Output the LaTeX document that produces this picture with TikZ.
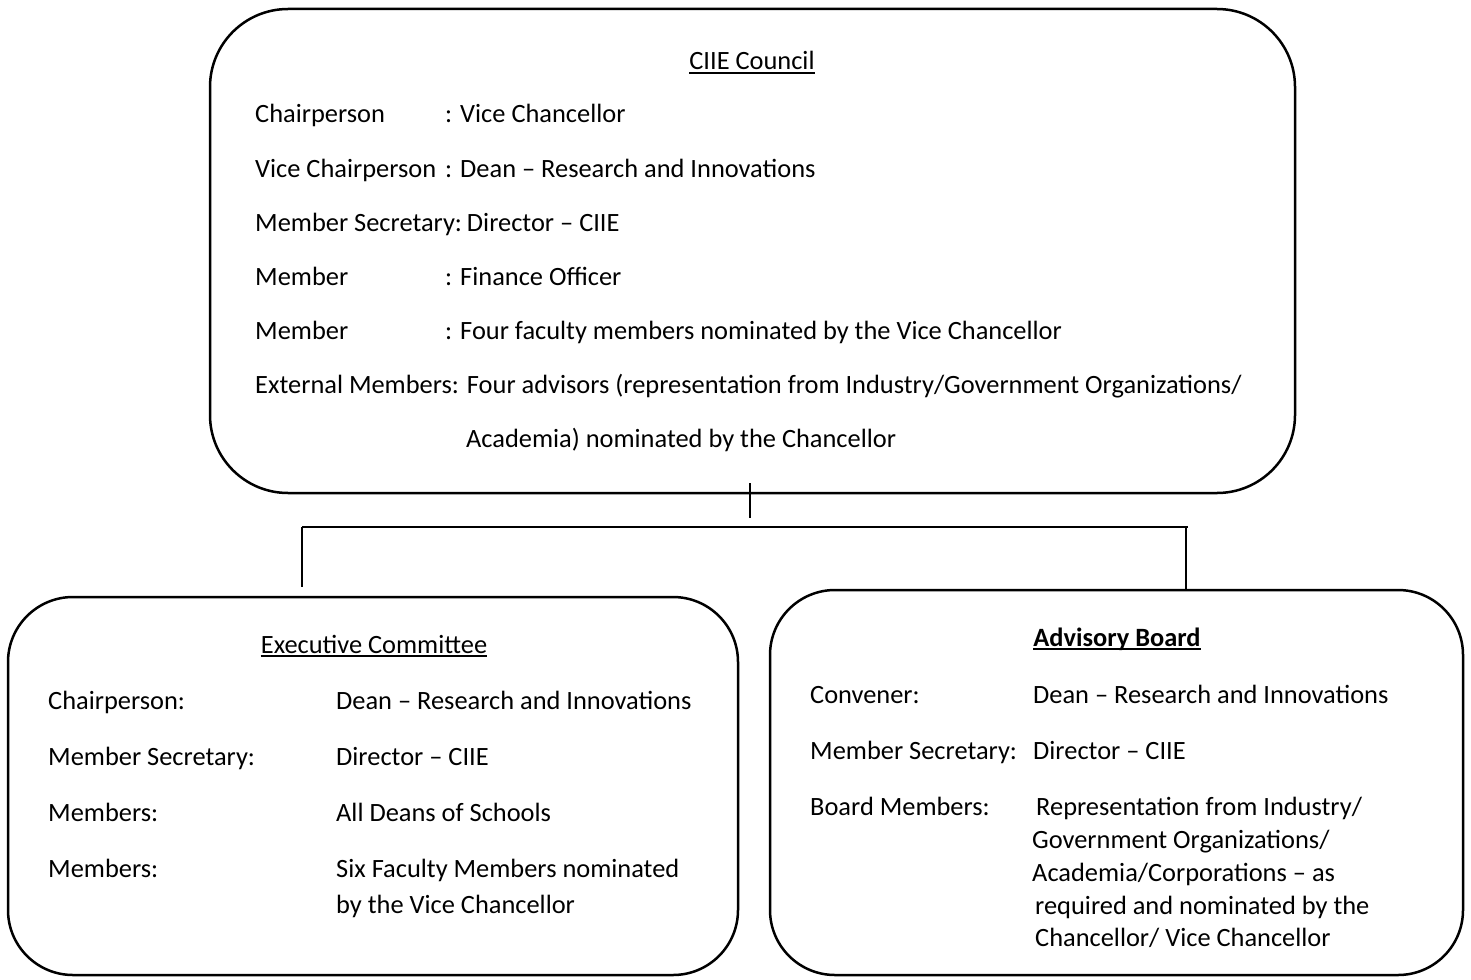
\documentclass[tikz,border=0pt]{standalone}
\usepackage{fontspec}
\setmainfont{Carlito}
\begin{document}
\begin{tikzpicture}[x=1pt,y=-1pt,
  box/.style={draw,line width=2.5pt,rounded corners=78pt,inner sep=0pt},
  txt/.style={anchor=base west,inner sep=0pt,font=\fontsize{26.4}{30}\selectfont},
  ttl/.style={anchor=base,inner sep=0pt,font=\fontsize{26.4}{30}\selectfont},
  uline/.style={line width=1.4pt},
  conn/.style={line width=1.3pt}]
\useasboundingbox (0,0) rectangle (1471,979);
% boxes
\node[box,minimum width=1085pt,minimum height=484pt] (council) at (752.5,251) {};
\node[box,minimum width=730pt,minimum height=378pt,rounded corners=65pt] (exec) at (373,786) {};
\node[box,minimum width=693pt,minimum height=385pt,rounded corners=65pt] (adv) at (1116.5,782.5) {};
% council text
\node[ttl] (ct) at (752,70) {CIIE Council};
\draw[uline] ([yshift=-3pt]ct.base west) -- ([yshift=-3pt]ct.base east);
\node[txt] (c1a) at (255,123) {Chairperson};
\node[txt] (c1b) at (445,123) {: Vice Chancellor};
\node[txt] (c2a) at (255,177) {Vice Chairperson};
\node[txt] (c2b) at (445,177) {: Dean -- Research and Innovations};
\node[txt] (c3) at (255,231) {Member Secretary:\hspace{-3pt} Director -- CIIE};
\node[txt] (c4a) at (255,285) {Member};
\node[txt] (c4b) at (445,285) {: Finance Officer};
\node[txt] (c5a) at (255,339) {Member};
\node[txt] (c5b) at (445,339) {: Four faculty members nominated by the Vice Chancellor};
\node[txt] (c6) at (255,393) {External Members: Four advisors (representation from Industry/Government Organizations/};
\node[txt] (c7) at (466,447) {Academia) nominated by the Chancellor};
% exec text
\node[ttl] (et) at (374,653) {Executive Committee};
\draw[uline] ([yshift=-3pt]et.base west) -- ([yshift=-3pt]et.base east);
\node[txt] (e1a) at (48,709) {Chairperson:};
\node[txt] (e1b) at (336,709) {Dean -- Research and Innovations};
\node[txt] (e2a) at (48,765) {Member Secretary:};
\node[txt] (e2b) at (336,765) {Director -- CIIE};
\node[txt] (e3a) at (48,821) {Members:};
\node[txt] (e3b) at (336,821) {All Deans of Schools};
\node[txt] (e4a) at (48,877) {Members:};
\node[txt] (e4b) at (336,877) {Six Faculty Members nominated};
\node[txt] (e4c) at (336,913) {by the Vice Chancellor};
% advisory text
\node[ttl,font=\fontsize{26.4}{30}\selectfont\bfseries] (at) at (1117,646) {Advisory Board};
\draw[uline] ([yshift=-3pt]at.base west) -- ([yshift=-3pt]at.base east);
\node[txt] (a1a) at (810,703) {Convener:};
\node[txt] (a1b) at (1033,703) {Dean -- Research and Innovations};
\node[txt] (a2a) at (810,759) {Member Secretary:};
\node[txt] (a2b) at (1033,759) {Director -- CIIE};
\node[txt] (a3a) at (810,815) {Board Members:};
\node[txt] (a3b) at (1036,815) {Representation from Industry/};
\node[txt] (a3c) at (1032,848) {Government Organizations/};
\node[txt] (a3d) at (1032,881) {Academia/Corporations -- as};
\node[txt] (a3e) at (1035,914) {required and nominated by the};
\node[txt] (a3f) at (1035,946) {Chancellor/ Vice Chancellor};
% connectors
\coordinate (tickTop) at (750,483);
\coordinate (tickBot) at (750,518);
\coordinate (jl) at (302,527);
\coordinate (jr) at (1188,527);
\coordinate (dl) at (302,587);
\coordinate (dr) at (1186,527);
\draw[conn] (tickTop) -- (tickBot);
\draw[conn] (jl) -- (jr);
\draw[conn] (jl) -- (dl);
\draw[conn] (dr) -- (dr |- adv.north);
\end{tikzpicture}
\end{document}
